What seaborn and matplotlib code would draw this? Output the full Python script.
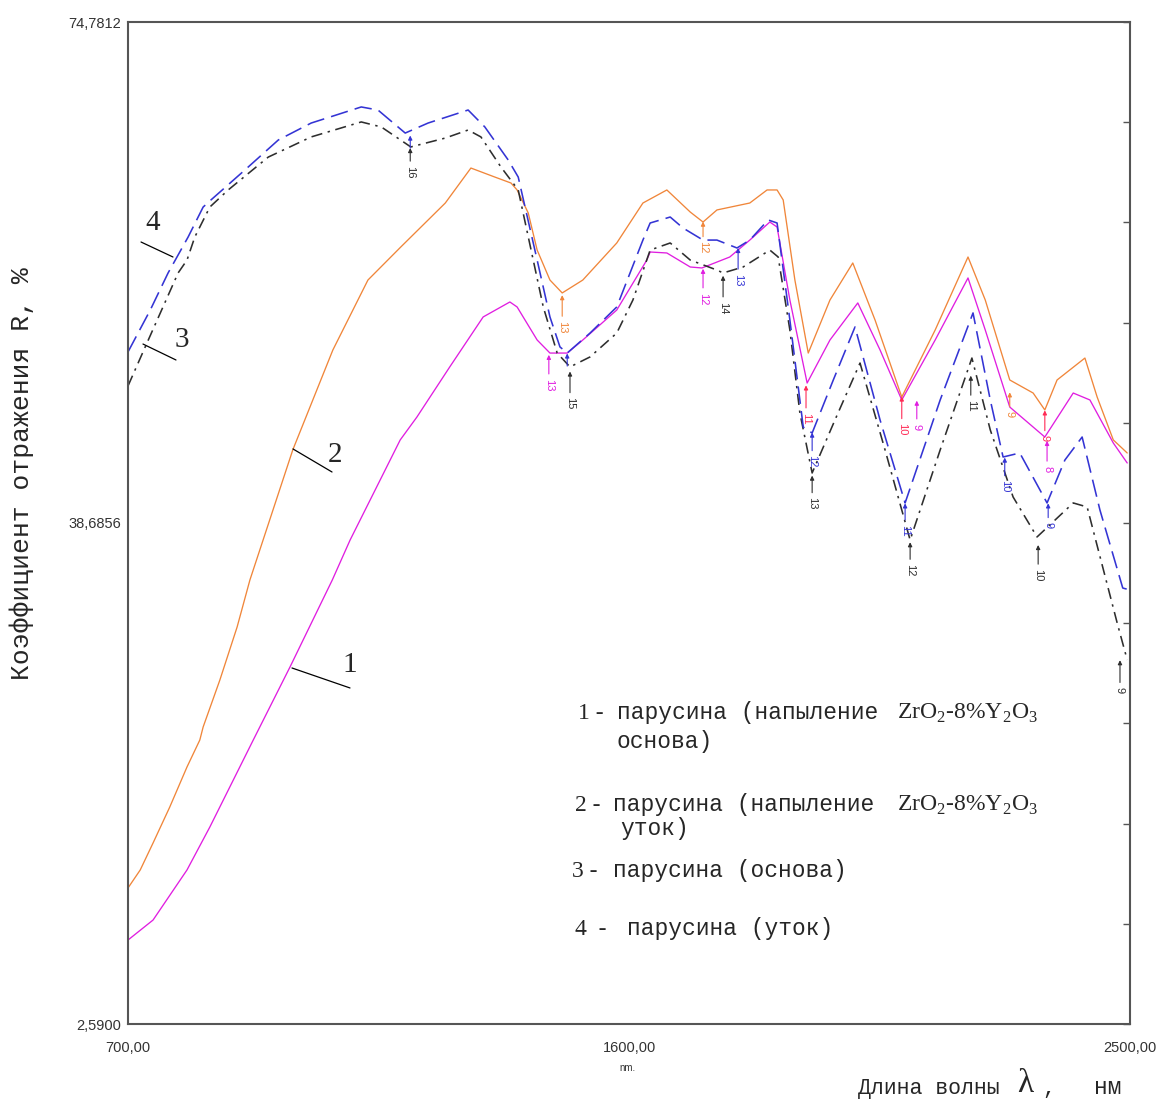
import numpy as np
import pandas as pd
import matplotlib
matplotlib.use("Agg")
import matplotlib.pyplot as plt
import seaborn as sns

# curve 1 - magenta (парусина с напылением, основа)
wl_1 = [700, 745, 806, 847, 925, 991, 1067, 1099, 1189, 1219, 1278, 1338, 1386, 1399, 1435, 1458,
        1489, 1517, 1578, 1632, 1638, 1668, 1710, 1731, 1781, 1817, 1853, 1866, 1889, 1920,
        1961, 2011, 2051, 2090, 2150, 2209, 2240, 2284, 2347, 2398, 2428, 2470, 2495]
r_1 = [8.64, 10.08, 13.69, 16.78, 23.05, 28.31, 34.58, 37.46, 44.67, 46.32, 49.93, 53.53, 54.61,
       54.25, 51.87, 50.93, 50.93, 51.87, 54.03, 57.63, 58.21, 58.14, 57.13, 57.06, 57.85, 59.07,
       60.37, 60.01, 54.75, 48.77, 51.87, 54.54, 51.15, 47.55, 51.87, 56.34, 52.59, 47.04, 44.88,
       48.05, 47.55, 44.45, 43.01]

# curve 2 - orange (парусина с напылением, уток)
wl_2 = [700, 722, 745, 775, 806, 829, 835, 865, 896, 919, 996, 1068, 1131, 1190, 1270, 1316,
        1359, 1388, 1399, 1419, 1435, 1458, 1480, 1517, 1578, 1625, 1668, 1710, 1733, 1758, 1817,
        1848, 1866, 1877, 1898, 1922, 1961, 2002, 2042, 2090, 2150, 2209, 2240, 2284, 2326, 2347,
        2369, 2419, 2441, 2470, 2495]
r_2 = [12.39, 13.69, 15.63, 18.22, 21.11, 23.05, 23.99, 27.37, 31.19, 34.58, 43.95, 51.15, 56.19,
       58.57, 61.74, 64.26, 63.61, 63.18, 62.68, 61.02, 58.35, 56.19, 55.26, 56.19, 58.86, 61.74,
       62.68, 61.09, 60.37, 61.24, 61.74, 62.68, 62.68, 61.96, 56.19, 50.93, 54.75, 57.42, 53.31,
       47.76, 52.59, 57.85, 54.75, 48.99, 48.05, 46.83, 48.99, 50.57, 47.76, 44.67, 43.73]

# curve 3 - black dash-dot (парусина, основа)
wl_3 = [700, 734, 790, 806, 820, 847, 880, 952, 1029, 1119, 1155, 1208, 1270, 1311, 1334, 1370,
        1401, 1446, 1471, 1494, 1530, 1578, 1607, 1638, 1674, 1710, 1758, 1769, 1805, 1853, 1868,
        1889, 1907, 1929, 1970, 2015, 2060, 2105, 2159, 2216, 2249, 2290, 2333, 2398, 2423, 2477,
        2495]
r_3 = [48.56, 51.65, 56.70, 57.63, 59.29, 61.45, 62.68, 65.05, 66.50, 67.58, 67.22, 65.78, 66.42,
       67.00, 66.50, 64.33, 62.68, 54.25, 50.93, 49.93, 50.65, 52.37, 54.75, 58.35, 58.86, 57.63,
       56.91, 56.70, 57.13, 58.35, 57.85, 52.59, 46.61, 42.29, 46.11, 50.21, 43.95, 37.46, 43.95,
       50.57, 45.39, 40.56, 37.68, 40.13, 39.84, 31.48, 28.82]

# curve 4 - blue dashed (парусина, уток)
wl_4 = [700, 740, 772, 788, 808, 835, 849, 910, 970, 1029, 1119, 1149, 1198, 1239, 1311, 1341,
        1383, 1401, 1435, 1458, 1476, 1489, 1530, 1578, 1625, 1638, 1674, 1697, 1733, 1758, 1794,
        1817, 1850, 1866, 1889, 1913, 1929, 1967, 2006, 2051, 2096, 2159, 2218, 2249, 2272, 2302,
        2351, 2383, 2414, 2446, 2487, 2500]
r_4 = [51.01, 54.03, 56.70, 57.85, 59.29, 61.45, 61.96, 64.12, 66.28, 67.50, 68.66, 68.44, 66.78,
       67.50, 68.44, 67.22, 64.84, 63.61, 57.63, 53.53, 51.37, 50.93, 52.37, 54.25, 59.07, 60.30,
       60.73, 59.94, 59.07, 59.07, 58.50, 59.07, 60.52, 60.30, 53.31, 45.60, 45.17, 48.99, 52.81,
       46.11, 40.13, 47.55, 53.82, 47.55, 43.44, 43.73, 40.13, 43.22, 44.88, 39.62, 34.00, 33.86]

# band markers (wavelength, R at arrow tip, label, colour key)
ann_wl = [1480, 1733, 2284, 1456, 1733, 1918, 2090, 2117, 2347, 2351, 1207, 1207, 1489, 1494,
          1796, 1769, 1929, 1929, 2096, 2105, 2214, 2275, 2353, 2335, 2482]
ann_r = [55.1, 60.4, 48.1, 50.8, 57.0, 48.6, 47.8, 47.5, 46.8, 44.6, 66.6, 65.7, 50.9, 49.6,
         58.5, 56.5, 45.2, 42.1, 40.1, 37.3, 49.3, 43.4, 40.1, 37.1, 28.8]
ann_txt = ["13", "12", "9", "13", "12", "11", "10", "9", "9", "8", "", "16", "", "15",
           "13", "14", "12", "13", "11", "12", "11", "10", "9", "10", "9"]
ann_col = ["o", "o", "o", "m", "m", "r", "r", "m", "r", "m", "b", "k", "b", "k",
           "b", "k", "b", "k", "b", "k", "k", "b", "b", "k", "k"]
ann_off = [32, 26, 22, 30, 30, 33, 33, 26, 28, 28, 14, 24, 14, 32,
           32, 32, 29, 28, 27, 28, 30, 29, 22, 30, 30]

# curve number labels with leader lines
num_txt = ["1", "2", "3", "4"]
num_x = [1099, 1072, 797, 745]
num_y = [28.45, 43.59, 51.87, 60.30]
lead_x0 = [994.6, 996.4, 726.9, 723.4]
lead_y0 = [28.24, 44.02, 51.58, 58.93]
lead_x1 = [1098.8, 1066.5, 786.2, 780.8]
lead_y1 = [26.80, 42.36, 50.43, 57.85]

x_ticks = np.linspace(700, 2500, 11)
x_labels = ["700,00", "", "", "", "", "1600,00", "", "", "", "", "2500,00"]
y_ticks = np.linspace(2.59, 74.7812, 11)
y_labels = ["2,5900", "", "", "", "", "38,6856", "", "", "", "", "74,7812"]

colors = {"o": "#f0863a", "m": "#e01ee0", "r": "#ff2a55", "b": "#3434d4", "k": "#2e2e2e"}

frames = []
for name, wl, r in [("1", wl_1, r_1), ("2", wl_2, r_2), ("3", wl_3, r_3), ("4", wl_4, r_4)]:
    frames.append(pd.DataFrame({"wl": wl, "R": r, "curve": name}))
df = pd.concat(frames, ignore_index=True)

sns.set_style("white")
plt.rcParams['font.family'] = ['Liberation Sans', 'DejaVu Sans']
plt.rcParams['mathtext.fontset'] = 'custom'
plt.rcParams['mathtext.rm'] = 'Liberation Serif'

W, H = 1158, 1102
fig = plt.figure(figsize=(W / 100, H / 100), dpi=100)
ax = fig.add_axes([128 / W, 1 - 1024 / H, 1002 / W, 1002 / H])

palette = {"1": colors["m"], "2": colors["o"], "3": colors["k"], "4": colors["b"]}
dashes = {"1": "", "2": "", "3": (7, 3.5, 1.5, 3.5), "4": (11, 4.5)}
sns.lineplot(data=df, x="wl", y="R", hue="curve", style="curve", hue_order=["1", "2", "3", "4"],
             style_order=["1", "2", "3", "4"], palette=palette, dashes=dashes,
             estimator=None, legend=False, ax=ax, linewidth=1.0)
for line, lw in zip(ax.lines, [0.95, 0.95, 1.15, 1.15]):
    line.set_linewidth(lw)

ax.set_xlim(700, 2500)
ax.set_ylim(2.59, 74.7812)
ax.set_xticks(x_ticks)
ax.set_xticklabels(x_labels)
ax.set_yticks(y_ticks)
ax.set_yticklabels(y_labels)
ax.set_xlabel("")
ax.set_ylabel("")
ax.tick_params(axis="both", direction="in", length=5, width=1, color="#555555",
               labelsize=10.5, labelcolor="#333333")
ax.tick_params(axis="y", right=True, pad=5)
ax.tick_params(axis="x", pad=12)
for s in ax.spines.values():
    s.set_visible(True)
    s.set_color("#555555")
    s.set_linewidth(1.5)

# markers of absorption bands
for wl, r, t, c, off in zip(ann_wl, ann_r, ann_txt, ann_col, ann_off):
    ax.annotate(t, xy=(wl, r), xytext=(0, -off * 0.72), textcoords="offset points",
                rotation=270, ha="center", va="center", fontsize=8, color=colors[c],
                arrowprops=dict(arrowstyle="-|>", color=colors[c], lw=0.8,
                                mutation_scale=6, shrinkA=1, shrinkB=0))

# curve numbers
for t, x, y, x0, y0, x1, y1 in zip(num_txt, num_x, num_y, lead_x0, lead_y0, lead_x1, lead_y1):
    ax.plot([x0, x1], [y0, y1], color="black", lw=0.9)
    ax.text(x, y, t, fontsize=21, family="Liberation Serif", ha="center", va="center")

# legend block
mono = "Liberation Mono"
serif = "Liberation Serif"
chem = r"ZrO$_\mathrm{2}$-8%Y$_\mathrm{2}$O$_\mathrm{3}$"


def ftext(px, py, s, fam, size, **kw):
    fig.text(px / W, 1 - py / H, s, family=fam, fontsize=size, va="baseline", **kw)


ftext(578, 719, "1 -", serif, 17)
ftext(617, 719, "парусина (напыление", mono, 16.5)
ftext(897, 719, chem, serif, 17)
ftext(617, 748, "основа)", mono, 16.5)
ftext(575, 811, "2 -", serif, 17)
ftext(613, 811, "парусина (напыление", mono, 16.5)
ftext(897, 811, chem, serif, 17)
ftext(620, 835, "уток)", mono, 16.5)
ftext(572, 877, "3 -", serif, 17)
ftext(613, 877, "парусина (основа)", mono, 16.5)
ftext(575, 935, "4  -", serif, 17)
ftext(627, 935, "парусина (уток)", mono, 16.5)

# axis titles
fig.text(627 / W, 1 - 1068 / H, "nm.", fontsize=7, ha="center", va="center", color="#333333")
fig.text(22 / W, 1 - 474 / H, "Коэффициент отражения R, %", rotation=90, family=mono,
         fontsize=19, ha="center", va="center")
ftext(858, 1094, "Длина волны", mono, 15.5)
ftext(1017, 1092, "λ", serif, 24)
ftext(1042, 1094, ",", mono, 15.5)
ftext(1094, 1094, "нм", mono, 16.5)

fig.savefig("out.png", dpi=100)
plt.close()
